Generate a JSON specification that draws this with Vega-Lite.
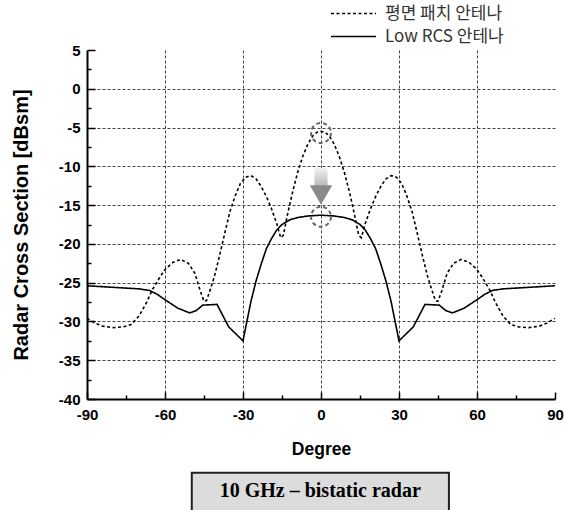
{
  "$schema": "https://vega.github.io/schema/vega-lite/v6.json",
  "width": 468,
  "height": 349,
  "autosize": {"type": "none"},
  "padding": {"left": 87, "top": 50, "right": 10, "bottom": 111},
  "background": "white",
  "resolve": {"axis": {"x": "independent", "y": "independent"}},
  "config": {
    "view": {"stroke": null},
    "axis": {
      "labelFont": "Liberation Sans",
      "labelFontSize": 15,
      "labelFontWeight": "bold",
      "labelColor": "black",
      "labelOverlap": false,
      "labelFlush": false,
      "titleFont": "Liberation Sans",
      "titleFontWeight": "bold",
      "titleColor": "black",
      "domainColor": "black",
      "domainWidth": 2,
      "tickColor": "black",
      "tickWidth": 1.5,
      "gridColor": "#444444",
      "gridDash": [3, 2],
      "gridWidth": 1
    }
  },
  "datasets": {
    "lines": [
      {"series": "평면 패치 안테나", "deg": -90, "rcs": -29.6},
      {"series": "평면 패치 안테나", "deg": -87, "rcs": -30.2},
      {"series": "평면 패치 안테나", "deg": -84, "rcs": -30.6},
      {"series": "평면 패치 안테나", "deg": -80, "rcs": -30.8},
      {"series": "평면 패치 안테나", "deg": -76, "rcs": -30.7},
      {"series": "평면 패치 안테나", "deg": -73, "rcs": -30.4},
      {"series": "평면 패치 안테나", "deg": -70, "rcs": -29.3},
      {"series": "평면 패치 안테나", "deg": -67, "rcs": -27.5},
      {"series": "평면 패치 안테나", "deg": -65, "rcs": -26.0},
      {"series": "평면 패치 안테나", "deg": -62, "rcs": -24.3},
      {"series": "평면 패치 안테나", "deg": -60, "rcs": -23.3},
      {"series": "평면 패치 안테나", "deg": -57, "rcs": -22.4},
      {"series": "평면 패치 안테나", "deg": -54, "rcs": -22.0},
      {"series": "평면 패치 안테나", "deg": -51, "rcs": -22.5},
      {"series": "평면 패치 안테나", "deg": -48.5, "rcs": -23.8},
      {"series": "평면 패치 안테나", "deg": -46.5, "rcs": -26.0},
      {"series": "평면 패치 안테나", "deg": -45, "rcs": -27.4},
      {"series": "평면 패치 안테나", "deg": -44, "rcs": -27.3},
      {"series": "평면 패치 안테나", "deg": -42.5, "rcs": -25.8},
      {"series": "평면 패치 안테나", "deg": -41, "rcs": -24.2},
      {"series": "평면 패치 안테나", "deg": -39, "rcs": -21.5},
      {"series": "평면 패치 안테나", "deg": -37, "rcs": -18.6},
      {"series": "평면 패치 안테나", "deg": -35, "rcs": -15.8},
      {"series": "평면 패치 안테나", "deg": -33, "rcs": -13.8},
      {"series": "평면 패치 안테나", "deg": -31, "rcs": -12.2},
      {"series": "평면 패치 안테나", "deg": -29, "rcs": -11.4},
      {"series": "평면 패치 안테나", "deg": -27, "rcs": -11.2},
      {"series": "평면 패치 안테나", "deg": -25, "rcs": -11.6},
      {"series": "평면 패치 안테나", "deg": -23, "rcs": -12.6},
      {"series": "평면 패치 안테나", "deg": -21, "rcs": -13.9},
      {"series": "평면 패치 안테나", "deg": -19, "rcs": -15.5},
      {"series": "평면 패치 안테나", "deg": -17, "rcs": -17.4},
      {"series": "평면 패치 안테나", "deg": -15.5, "rcs": -19.2},
      {"series": "평면 패치 안테나", "deg": -14.5, "rcs": -18.9},
      {"series": "평면 패치 안테나", "deg": -13, "rcs": -16.4},
      {"series": "평면 패치 안테나", "deg": -11, "rcs": -13.4},
      {"series": "평면 패치 안테나", "deg": -9, "rcs": -10.8},
      {"series": "평면 패치 안테나", "deg": -7, "rcs": -8.7},
      {"series": "평면 패치 안테나", "deg": -5, "rcs": -7.1},
      {"series": "평면 패치 안테나", "deg": -3, "rcs": -6.0},
      {"series": "평면 패치 안테나", "deg": -1.5, "rcs": -5.6},
      {"series": "평면 패치 안테나", "deg": 0, "rcs": -5.5},
      {"series": "평면 패치 안테나", "deg": 1.5, "rcs": -5.6},
      {"series": "평면 패치 안테나", "deg": 3, "rcs": -6.0},
      {"series": "평면 패치 안테나", "deg": 5, "rcs": -7.1},
      {"series": "평면 패치 안테나", "deg": 7, "rcs": -8.7},
      {"series": "평면 패치 안테나", "deg": 9, "rcs": -10.8},
      {"series": "평면 패치 안테나", "deg": 11, "rcs": -13.4},
      {"series": "평면 패치 안테나", "deg": 13, "rcs": -16.4},
      {"series": "평면 패치 안테나", "deg": 14.5, "rcs": -18.9},
      {"series": "평면 패치 안테나", "deg": 15.5, "rcs": -19.2},
      {"series": "평면 패치 안테나", "deg": 17, "rcs": -17.4},
      {"series": "평면 패치 안테나", "deg": 19, "rcs": -15.5},
      {"series": "평면 패치 안테나", "deg": 21, "rcs": -13.9},
      {"series": "평면 패치 안테나", "deg": 23, "rcs": -12.6},
      {"series": "평면 패치 안테나", "deg": 25, "rcs": -11.6},
      {"series": "평면 패치 안테나", "deg": 27, "rcs": -11.2},
      {"series": "평면 패치 안테나", "deg": 29, "rcs": -11.4},
      {"series": "평면 패치 안테나", "deg": 31, "rcs": -12.2},
      {"series": "평면 패치 안테나", "deg": 33, "rcs": -13.8},
      {"series": "평면 패치 안테나", "deg": 35, "rcs": -15.8},
      {"series": "평면 패치 안테나", "deg": 37, "rcs": -18.6},
      {"series": "평면 패치 안테나", "deg": 39, "rcs": -21.5},
      {"series": "평면 패치 안테나", "deg": 41, "rcs": -24.2},
      {"series": "평면 패치 안테나", "deg": 42.5, "rcs": -25.8},
      {"series": "평면 패치 안테나", "deg": 44, "rcs": -27.3},
      {"series": "평면 패치 안테나", "deg": 45, "rcs": -27.4},
      {"series": "평면 패치 안테나", "deg": 46.5, "rcs": -26.0},
      {"series": "평면 패치 안테나", "deg": 48.5, "rcs": -23.8},
      {"series": "평면 패치 안테나", "deg": 51, "rcs": -22.5},
      {"series": "평면 패치 안테나", "deg": 54, "rcs": -22.0},
      {"series": "평면 패치 안테나", "deg": 57, "rcs": -22.4},
      {"series": "평면 패치 안테나", "deg": 60, "rcs": -23.3},
      {"series": "평면 패치 안테나", "deg": 62, "rcs": -24.3},
      {"series": "평면 패치 안테나", "deg": 65, "rcs": -26.0},
      {"series": "평면 패치 안테나", "deg": 67, "rcs": -27.5},
      {"series": "평면 패치 안테나", "deg": 70, "rcs": -29.3},
      {"series": "평면 패치 안테나", "deg": 73, "rcs": -30.4},
      {"series": "평면 패치 안테나", "deg": 76, "rcs": -30.7},
      {"series": "평면 패치 안테나", "deg": 80, "rcs": -30.8},
      {"series": "평면 패치 안테나", "deg": 84, "rcs": -30.6},
      {"series": "평면 패치 안테나", "deg": 87, "rcs": -30.2},
      {"series": "평면 패치 안테나", "deg": 90, "rcs": -29.6},
      {"series": "Low RCS 안테나", "deg": -90, "rcs": -25.4},
      {"series": "Low RCS 안테나", "deg": -80, "rcs": -25.6},
      {"series": "Low RCS 안테나", "deg": -70, "rcs": -25.8},
      {"series": "Low RCS 안테나", "deg": -66, "rcs": -26.0},
      {"series": "Low RCS 안테나", "deg": -63, "rcs": -26.5},
      {"series": "Low RCS 안테나", "deg": -60, "rcs": -27.2},
      {"series": "Low RCS 안테나", "deg": -55, "rcs": -28.3},
      {"series": "Low RCS 안테나", "deg": -50.5, "rcs": -28.9},
      {"series": "Low RCS 안테나", "deg": -48, "rcs": -28.6},
      {"series": "Low RCS 안테나", "deg": -45.5, "rcs": -27.9},
      {"series": "Low RCS 안테나", "deg": -40, "rcs": -27.8},
      {"series": "Low RCS 안테나", "deg": -35.5, "rcs": -30.7},
      {"series": "Low RCS 안테나", "deg": -30, "rcs": -32.5},
      {"series": "Low RCS 안테나", "deg": -28.5, "rcs": -30.0},
      {"series": "Low RCS 안테나", "deg": -27, "rcs": -27.5},
      {"series": "Low RCS 안테나", "deg": -25, "rcs": -24.8},
      {"series": "Low RCS 안테나", "deg": -23, "rcs": -22.6},
      {"series": "Low RCS 안테나", "deg": -21, "rcs": -20.6},
      {"series": "Low RCS 안테나", "deg": -19, "rcs": -19.3},
      {"series": "Low RCS 안테나", "deg": -17, "rcs": -18.2},
      {"series": "Low RCS 안테나", "deg": -15, "rcs": -17.5},
      {"series": "Low RCS 안테나", "deg": -12, "rcs": -16.9},
      {"series": "Low RCS 안테나", "deg": -9, "rcs": -16.6},
      {"series": "Low RCS 안테나", "deg": -5, "rcs": -16.4},
      {"series": "Low RCS 안테나", "deg": 0, "rcs": -16.3},
      {"series": "Low RCS 안테나", "deg": 5, "rcs": -16.4},
      {"series": "Low RCS 안테나", "deg": 9, "rcs": -16.6},
      {"series": "Low RCS 안테나", "deg": 12, "rcs": -16.9},
      {"series": "Low RCS 안테나", "deg": 15, "rcs": -17.5},
      {"series": "Low RCS 안테나", "deg": 17, "rcs": -18.2},
      {"series": "Low RCS 안테나", "deg": 19, "rcs": -19.3},
      {"series": "Low RCS 안테나", "deg": 21, "rcs": -20.6},
      {"series": "Low RCS 안테나", "deg": 23, "rcs": -22.6},
      {"series": "Low RCS 안테나", "deg": 25, "rcs": -24.8},
      {"series": "Low RCS 안테나", "deg": 27, "rcs": -27.5},
      {"series": "Low RCS 안테나", "deg": 28.5, "rcs": -30.0},
      {"series": "Low RCS 안테나", "deg": 30, "rcs": -32.5},
      {"series": "Low RCS 안테나", "deg": 35.5, "rcs": -30.7},
      {"series": "Low RCS 안테나", "deg": 40, "rcs": -27.8},
      {"series": "Low RCS 안테나", "deg": 45.5, "rcs": -27.9},
      {"series": "Low RCS 안테나", "deg": 48, "rcs": -28.6},
      {"series": "Low RCS 안테나", "deg": 50.5, "rcs": -28.9},
      {"series": "Low RCS 안테나", "deg": 55, "rcs": -28.3},
      {"series": "Low RCS 안테나", "deg": 60, "rcs": -27.2},
      {"series": "Low RCS 안테나", "deg": 63, "rcs": -26.5},
      {"series": "Low RCS 안테나", "deg": 66, "rcs": -26.0},
      {"series": "Low RCS 안테나", "deg": 70, "rcs": -25.8},
      {"series": "Low RCS 안테나", "deg": 80, "rcs": -25.6},
      {"series": "Low RCS 안테나", "deg": 90, "rcs": -25.4}
    ],
    "circles": [
      {"deg": 0, "rcs": -5.7},
      {"deg": 0, "rcs": -16.5}
    ],
    "shaft": [
      {"x1": -2.5, "x2": 2.5, "y1": -10.2, "y2": -12.9}
    ],
    "head": [
      {"deg": 0, "rcs": -13.7}
    ],
    "box": [
      {"x1": -49.7, "x2": 49.2, "y1": -49.5, "y2": -56, "xm": -0.3, "ym": -52.6, "label": "10 GHz – bistatic radar"}
    ]
  },
  "layer": [
    {
      "data": {"name": "lines"},
      "mark": {"type": "line", "color": "black", "strokeWidth": 1.6},
      "encoding": {
        "x": {
          "field": "deg", "type": "quantitative",
          "scale": {"domain": [-90, 90], "nice": false, "zero": false},
          "axis": {
            "orient": "bottom",
            "values": [-90, -60, -30, 0, 30, 60, 90],
            "labelExpr": "replace(datum.label, '−', '-')",
            "title": "Degree",
            "titleFontSize": 17.5,
            "titlePadding": 18,
            "labelPadding": 15,
            "tickSize": -7,
            "grid": true,
            "gridOpacity": {"condition": {"test": "abs(datum.value) < 90", "value": 1}, "value": 0}
          }
        },
        "y": {
          "field": "rcs", "type": "quantitative",
          "scale": {"domain": [-40, 5], "nice": false, "zero": false},
          "axis": {
            "orient": "left",
            "values": [-40, -35, -30, -25, -20, -15, -10, -5, 0, 5],
            "labelExpr": "replace(datum.label, '−', '-')",
            "title": "Radar Cross Section [dBsm]",
            "titleFontSize": 20,
            "titlePadding": 27,
            "labelPadding": 15,
            "tickSize": -8,
            "grid": true,
            "gridOpacity": {"condition": {"test": "datum.value <= 0 && datum.value > -40", "value": 1}, "value": 0}
          }
        },
        "strokeDash": {
          "field": "series", "type": "nominal",
          "scale": {"domain": ["평면 패치 안테나", "Low RCS 안테나"], "range": [[3, 2.5], [1, 0]]},
          "legend": {
            "title": null,
            "orient": "none",
            "legendX": 258,
            "legendY": -45,
            "symbolType": "M-5,0H5",
            "symbolSize": 81,
            "symbolStrokeWidth": 1.6,
            "symbolStrokeColor": "black",
            "labelFont": "Noto Sans CJK KR",
            "labelFontSize": 17,
            "labelColor": "#333333",
            "labelOffset": 23,
            "rowPadding": 5
          }
        }
      }
    },
    {
      "data": {"name": "head"},
      "mark": {"type": "point", "opacity": 0},
      "encoding": {
        "x": {
          "field": "deg", "type": "quantitative",
          "axis": {"orient": "bottom", "values": [-75, -45, -15, 15, 45, 75], "labels": false, "domain": false, "grid": false, "tickSize": -4, "title": null}
        },
        "y": {
          "field": "rcs", "type": "quantitative",
          "axis": {"orient": "left", "values": [-37.5, -32.5, -27.5, -22.5, -17.5, -12.5, -7.5, -2.5, 2.5], "labels": false, "domain": false, "grid": false, "tickSize": -4, "title": null}
        }
      }
    },
    {
      "data": {"name": "box"},
      "mark": {"type": "rect", "fill": "#dcdcdc", "stroke": "#222222", "strokeWidth": 2},
      "encoding": {
        "x": {"field": "x1", "type": "quantitative", "axis": null},
        "x2": {"field": "x2"},
        "y": {"field": "y1", "type": "quantitative", "axis": null},
        "y2": {"field": "y2"}
      }
    },
    {
      "data": {"name": "box"},
      "mark": {"type": "text", "font": "Liberation Serif", "fontSize": 20, "fontWeight": "bold", "color": "black", "align": "center", "baseline": "alphabetic"},
      "encoding": {
        "x": {"field": "xm", "type": "quantitative", "axis": null},
        "y": {"field": "ym", "type": "quantitative", "axis": null},
        "text": {"field": "label"}
      }
    },
    {
      "data": {"name": "shaft"},
      "mark": {"type": "rect", "fill": {"gradient": "linear", "x1": 0, "y1": 0, "x2": 0, "y2": 1, "stops": [{"offset": 0, "color": "#f2f2f2"}, {"offset": 1, "color": "#b0b0b0"}]}},
      "encoding": {
        "x": {"field": "x1", "type": "quantitative", "axis": null},
        "x2": {"field": "x2"},
        "y": {"field": "y1", "type": "quantitative", "axis": null},
        "y2": {"field": "y2"}
      }
    },
    {
      "data": {"name": "head"},
      "mark": {"type": "point", "shape": "triangle-down", "filled": true, "size": 500, "color": "#8a8a8a", "opacity": 1},
      "encoding": {
        "x": {"field": "deg", "type": "quantitative", "axis": null},
        "y": {"field": "rcs", "type": "quantitative", "axis": null}
      }
    },
    {
      "data": {"name": "circles"},
      "mark": {"type": "point", "shape": "circle", "filled": false, "size": 400, "stroke": "#666666", "strokeWidth": 2, "strokeDash": [4, 3], "opacity": 1},
      "encoding": {
        "x": {"field": "deg", "type": "quantitative", "axis": null},
        "y": {"field": "rcs", "type": "quantitative", "axis": null}
      }
    }
  ]
}
